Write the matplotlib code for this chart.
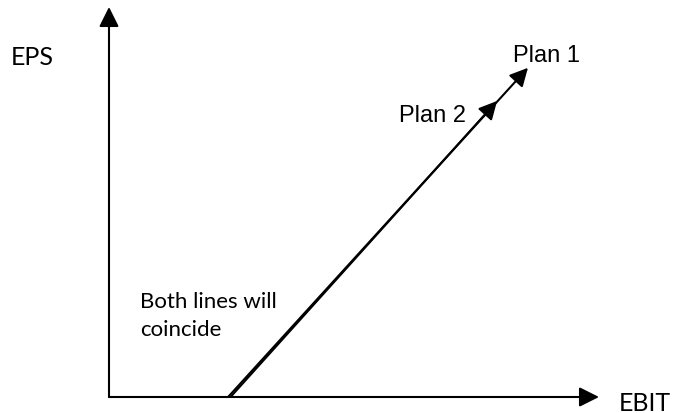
import matplotlib
matplotlib.use("Agg")
import matplotlib.pyplot as plt

# EBIT-EPS schematic (arbitrary units, axes run 0..100)
ebit_start_plan1 = 24.3
ebit_start_plan2 = 24.8
plan1_end = (85.5, 84.4)
plan2_end = (79.2, 75.9)
labels = ["Plan 1", "Plan 2"]
axis_labels = ("EBIT", "EPS")
note = "Both lines will\ncoincide"

fig = plt.figure(figsize=(6.73, 4.14), dpi=100)
ax = fig.add_axes([109 / 673, 16 / 414, 490 / 673, 390 / 414])
ax.set_xlim(0, 100)
ax.set_ylim(0, 100)
ax.axis("off")

def arrow(ax, start, end, hl=0.6, hw=0.3):
    ax.annotate("", xy=end, xytext=start,
                arrowprops=dict(arrowstyle=f"-|>,head_length={hl},head_width={hw}",
                                lw=1.5, color="black", shrinkA=0, shrinkB=0,
                                mutation_scale=20),
                annotation_clip=False)

# axes
arrow(ax, (0, 0), (100, 0))
arrow(ax, (0, 0), (0, 100))

# the two plans
arrow(ax, (ebit_start_plan1, 0), plan1_end, hl=0.55, hw=0.28)
arrow(ax, (ebit_start_plan2, 0), plan2_end, hl=0.55, hw=0.28)

calibri_like = ["Lato", "DejaVu Sans"]
arial_like = ["Liberation Sans", "DejaVu Sans"]

ax.text(-15.7, 87.4, axis_labels[1], fontsize=18, family=calibri_like,
        ha="center", va="center")
ax.text(109.4, -1.3, axis_labels[0], fontsize=18, family=calibri_like,
        ha="center", va="center", clip_on=False)
ax.text(89.3, 87.6, labels[0], fontsize=17, family=arial_like,
        ha="center", va="center")
ax.text(66.0, 72.3, labels[1], fontsize=17, family=arial_like,
        ha="center", va="center")
ax.text(6.3, 27.2, note, fontsize=16, family=calibri_like,
        ha="left", va="top", linespacing=1.5)

fig.savefig("out.png", dpi=100)
